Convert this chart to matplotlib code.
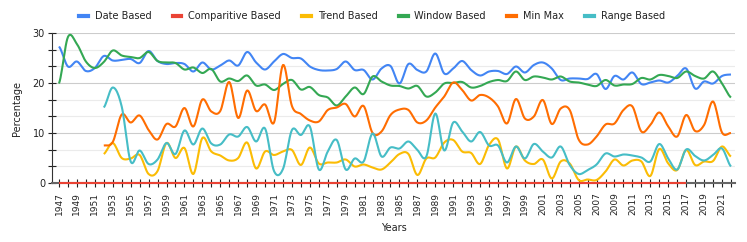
import numpy as np
import matplotlib
matplotlib.use("Agg")
import matplotlib.pyplot as plt
from matplotlib.lines import Line2D

years = list(range(1947, 2023))

date_based = [27.3, 23.3, 24.3, 22.4, 23.0, 25.4, 24.5, 24.6, 24.8, 24.0,
              26.4, 24.4, 23.8, 24.0, 23.8, 22.3, 24.1, 22.7, 23.5, 24.5,
              23.5, 26.2, 24.1, 22.7, 24.3, 25.8, 25.0, 24.9, 23.3, 22.6,
              22.5, 22.8, 24.3, 22.6, 22.6, 20.7, 22.9, 23.4, 19.9, 23.8,
              22.6, 22.3, 25.9, 21.9, 22.9, 24.4, 22.6, 21.5, 22.3, 22.4,
              21.8, 23.3, 22.1, 23.6, 24.1, 22.9, 20.6, 20.9, 20.9, 20.8,
              21.8, 18.8, 21.4, 20.7, 22.1, 19.8, 20.1, 20.5, 20.1, 21.4,
              22.9, 18.9, 20.3, 19.9, 21.4, 21.7]

comparitive_based = [0.0] * 71 + [None] * 5

window_based = [19.9, 29.2, 27.8, 24.3, 23.0, 24.2, 26.5, 25.5, 25.2, 25.0,
                26.2, 24.4, 24.1, 24.0, 22.7, 23.1, 22.0, 22.8, 20.3, 20.9,
                20.4, 21.5, 19.5, 19.7, 18.6, 19.8, 20.6, 18.7, 19.2, 17.6,
                17.1, 15.5, 17.3, 19.1, 17.8, 21.3, 20.3, 19.5, 19.4, 18.9,
                19.4, 17.3, 18.1, 19.9, 20.0, 20.2, 19.1, 19.4, 20.2, 20.6,
                20.4, 22.3, 20.6, 21.3, 21.1, 20.7, 21.3, 20.3, 20.1, 19.7,
                19.4, 20.6, 19.5, 19.7, 19.8, 21.0, 20.7, 21.6, 21.4, 21.0,
                22.3, 21.4, 20.9, 22.3, 19.9, 17.1]

min_max = [None] * 5 + [
    7.5, 8.2, 13.7, 12.1, 13.5, 10.6, 8.7, 11.8, 11.3, 15.0,
    11.3, 16.7, 14.3, 14.4, 20.2, 13.0, 18.5, 14.4, 15.7, 12.1,
    23.6, 15.4, 13.8, 12.5, 12.3, 14.6, 15.1, 15.8, 13.3, 15.4,
    10.0, 10.3, 13.6, 14.7, 14.6, 12.1, 12.5, 15.1, 17.3, 20.1,
    18.6, 16.5, 17.6, 17.1, 15.3, 11.9, 16.8, 12.9, 13.3, 16.6,
    11.8, 14.9, 14.6, 8.7, 7.7, 9.3, 11.7, 11.9, 14.6, 15.3,
    10.3, 11.6, 14.1, 11.3, 9.3, 13.6, 10.4, 11.6, 16.3, 10.1,
    10.0]

trend_based = [None] * 5 + [
    5.8, 8.0, 5.0, 4.9, 5.6, 1.8, 2.4, 8.0, 5.0, 7.0,
    1.8, 9.0, 6.3, 5.5, 4.5, 5.0, 8.1, 2.9, 6.3, 5.6,
    6.3, 6.6, 3.6, 7.1, 3.9, 4.1, 4.1, 4.7, 3.3, 3.7,
    3.1, 2.7, 4.1, 5.8, 5.8, 1.6, 4.9, 5.1, 8.1, 8.6,
    6.3, 6.0, 3.8, 7.6, 8.7, 2.9, 7.3, 4.5, 3.8, 4.7,
    0.9, 4.3, 3.9, 0.6, 0.7, 0.6, 2.3, 4.7, 3.5, 4.5,
    4.3, 1.4, 6.8, 3.9, 2.6, 6.6, 3.6, 4.3, 4.4, 7.3,
    5.3]

range_based = [None] * 5 + [
    15.1, 19.1, 15.3, 4.3, 6.5, 3.8, 4.7, 8.0, 5.8, 10.5,
    7.7, 10.9, 7.9, 7.7, 9.7, 9.3, 11.2, 8.3, 10.9, 2.4,
    2.8, 10.6, 9.6, 11.3, 2.7, 6.3, 8.6, 2.7, 4.9, 4.3,
    9.9, 5.3, 7.1, 6.9, 8.3, 6.6, 5.3, 13.9, 6.5, 12.1,
    10.3, 8.3, 10.2, 7.5, 7.5, 4.1, 7.3, 4.9, 7.8, 6.3,
    5.1, 7.3, 3.6, 1.8, 2.6, 3.7, 5.9, 5.3, 5.7, 5.5,
    5.1, 4.3, 7.8, 4.9, 2.7, 6.7, 5.4, 4.5, 5.6, 6.9,
    3.3]

series_names = ["Date Based", "Comparitive Based", "Trend Based",
                "Window Based", "Min Max", "Range Based"]
series_vals = [date_based, comparitive_based, trend_based,
               window_based, min_max, range_based]
colors = ["#4285F4", "#EA4335", "#FBBC04", "#34A853", "#FF6D01", "#46BDC6"]


def smooth(xs, ys, n=12):
    # catmull-rom curve through the points, like the smoothed chart lines
    xs = np.asarray(xs, float)
    ys = np.asarray(ys, float)
    if len(xs) < 3:
        return xs, ys
    px = np.concatenate([[2 * xs[0] - xs[1]], xs, [2 * xs[-1] - xs[-2]]])
    py = np.concatenate([[ys[0]], ys, [ys[-1]]])
    t = np.linspace(0, 1, n, endpoint=False)
    outx, outy = [], []
    for i in range(1, len(px) - 2):
        for p, out in ((px, outx), (py, outy)):
            p0, p1, p2, p3 = p[i - 1], p[i], p[i + 1], p[i + 2]
            out.append(0.5 * (2 * p1 + (-p0 + p2) * t
                              + (2 * p0 - 5 * p1 + 4 * p2 - p3) * t ** 2
                              + (-p0 + 3 * p1 - 3 * p2 + p3) * t ** 3))
    outx.append([xs[-1]])
    outy.append([ys[-1]])
    return np.concatenate(outx), np.concatenate(outy)


fig = plt.figure(figsize=(7.47, 2.42), dpi=100)
ax = fig.add_axes([52 / 747, 1 - 183 / 242, 683 / 747, 150 / 242])

for name, vals, col in zip(series_names, series_vals, colors):
    xs = [y for y, v in zip(years, vals) if v is not None]
    ys = [v for v in vals if v is not None]
    sx, sy = smooth(xs, ys)
    ax.plot(sx, sy, color=col, linewidth=1.5, solid_capstyle="butt",
            zorder=3, clip_on=False)

ax.set_xlim(1946.22, 2022.45)
ax.set_ylim(0, 30)

ax.set_xticks(years)
ax.set_xticklabels([str(y) if (y - 1947) % 2 == 0 else "" for y in years],
                   rotation=90, fontsize=6.5, color="#222222")
ax.set_yticks([0, 10, 20, 30])
ax.set_yticks(np.arange(0, 30.01, 10 / 3), minor=True)
ax.tick_params(axis="y", labelsize=7, colors="#222222")
ax.tick_params(axis="both", which="both", direction="inout", length=6,
               width=0.8, color="#222222")
ax.tick_params(axis="y", which="major", pad=2)

ax.grid(axis="y", which="major", color="#cccccc", linewidth=0.8)
ax.grid(axis="y", which="minor", color="#ebebeb", linewidth=0.8)
ax.set_axisbelow(True)

for s in ["top", "right"]:
    ax.spines[s].set_visible(False)
ax.spines["left"].set_color("#333333")
ax.spines["bottom"].set_color("#666666")
ax.spines["bottom"].set_linewidth(1.5)

ax.set_xlabel("Years", fontsize=7, color="#222222", labelpad=6)
ax.set_ylabel("Percentage", fontsize=7, color="#222222", labelpad=8)

handles = [Line2D([0], [0], color=c, linewidth=3) for c in colors]
fig.legend(handles, series_names, loc="center",
           bbox_to_anchor=(372 / 747, 1 - 16 / 242), ncol=6, frameon=False,
           fontsize=7, handlelength=0.9, handletextpad=0.7,
           columnspacing=2.2, labelcolor="#222222")

fig.savefig("out.png", dpi=100)
